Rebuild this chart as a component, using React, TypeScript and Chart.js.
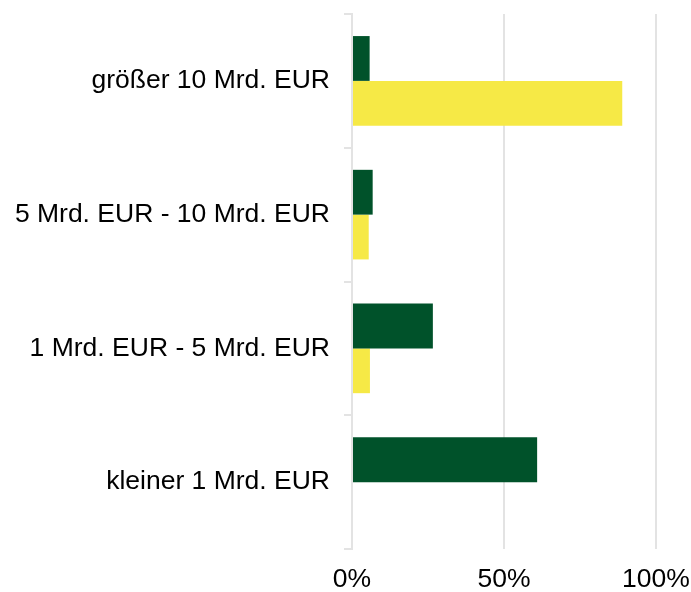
import React, { useEffect, useRef } from "react";
import { Chart, registerables } from "chart.js";

Chart.register(...registerables);

const categories = [
  "größer 10 Mrd. EUR",
  "5 Mrd. EUR - 10 Mrd. EUR",
  "1 Mrd. EUR - 5 Mrd. EUR",
  "kleiner 1 Mrd. EUR",
];
const seriesGreen = [5.8, 6.8, 26.6, 60.9];
const seriesYellow = [88.9, 5.5, 5.9, 0];
const xTicks = [0, 50, 100];

const FONT = "'Liberation Sans', Arial, sans-serif";

export default function App() {
  const ref = useRef<HTMLCanvasElement | null>(null);
  useEffect(() => {
    document.body.style.margin = "0";
    const ctx = ref.current!.getContext("2d")!;
    const chart = new Chart(ctx, {
      type: "bar",
      data: {
        labels: categories,
        datasets: [
          {
            label: "A",
            data: seriesGreen,
            backgroundColor: "#00522A",
            categoryPercentage: 0.67,
            barPercentage: 1.0,
          },
          {
            label: "B",
            data: seriesYellow,
            backgroundColor: "#F6E946",
            categoryPercentage: 0.67,
            barPercentage: 1.0,
          },
        ],
      },
      options: {
        indexAxis: "y",
        animation: false,
        responsive: false,
        layout: { padding: { top: 14, left: 2, right: 35, bottom: 0 } },
        plugins: { legend: { display: false }, tooltip: { enabled: false } },
        scales: {
          x: {
            min: 0,
            max: 100,
            afterBuildTicks: (axis: any) => {
              axis.ticks = xTicks.map((v) => ({ value: v }));
            },
            afterFit: (scale: any) => {
              scale.paddingLeft = 0;
              scale.paddingRight = 0;
              scale.height = 43;
            },
            ticks: {
              callback: (v: any) => v + "%",
              color: "#000",
              font: { family: FONT, size: 26.5 },
              padding: 15,
              maxRotation: 0,
            },
            grid: { color: "#e3e3e3", lineWidth: 2, drawTicks: false },
            border: { display: false },
          },
          y: {
            offset: true,
            afterFit: (scale: any) => {
              scale.paddingTop = 0;
              scale.paddingBottom = 0;
              scale.width = 350;
            },
            ticks: {
              color: "#000",
              font: { family: FONT, size: 26.5 },
              padding: 14,
            },
            grid: {
              offset: true,
              drawOnChartArea: false,
              tickLength: 8,
              color: "#e3e3e3",
              lineWidth: 2,
            },
            border: { color: "#e3e3e3", width: 2 },
          },
        },
      },
    });
    return () => chart.destroy();
  }, []);
  return <canvas ref={ref} width={691} height={592} style={{ display: "block" }} />;
}
